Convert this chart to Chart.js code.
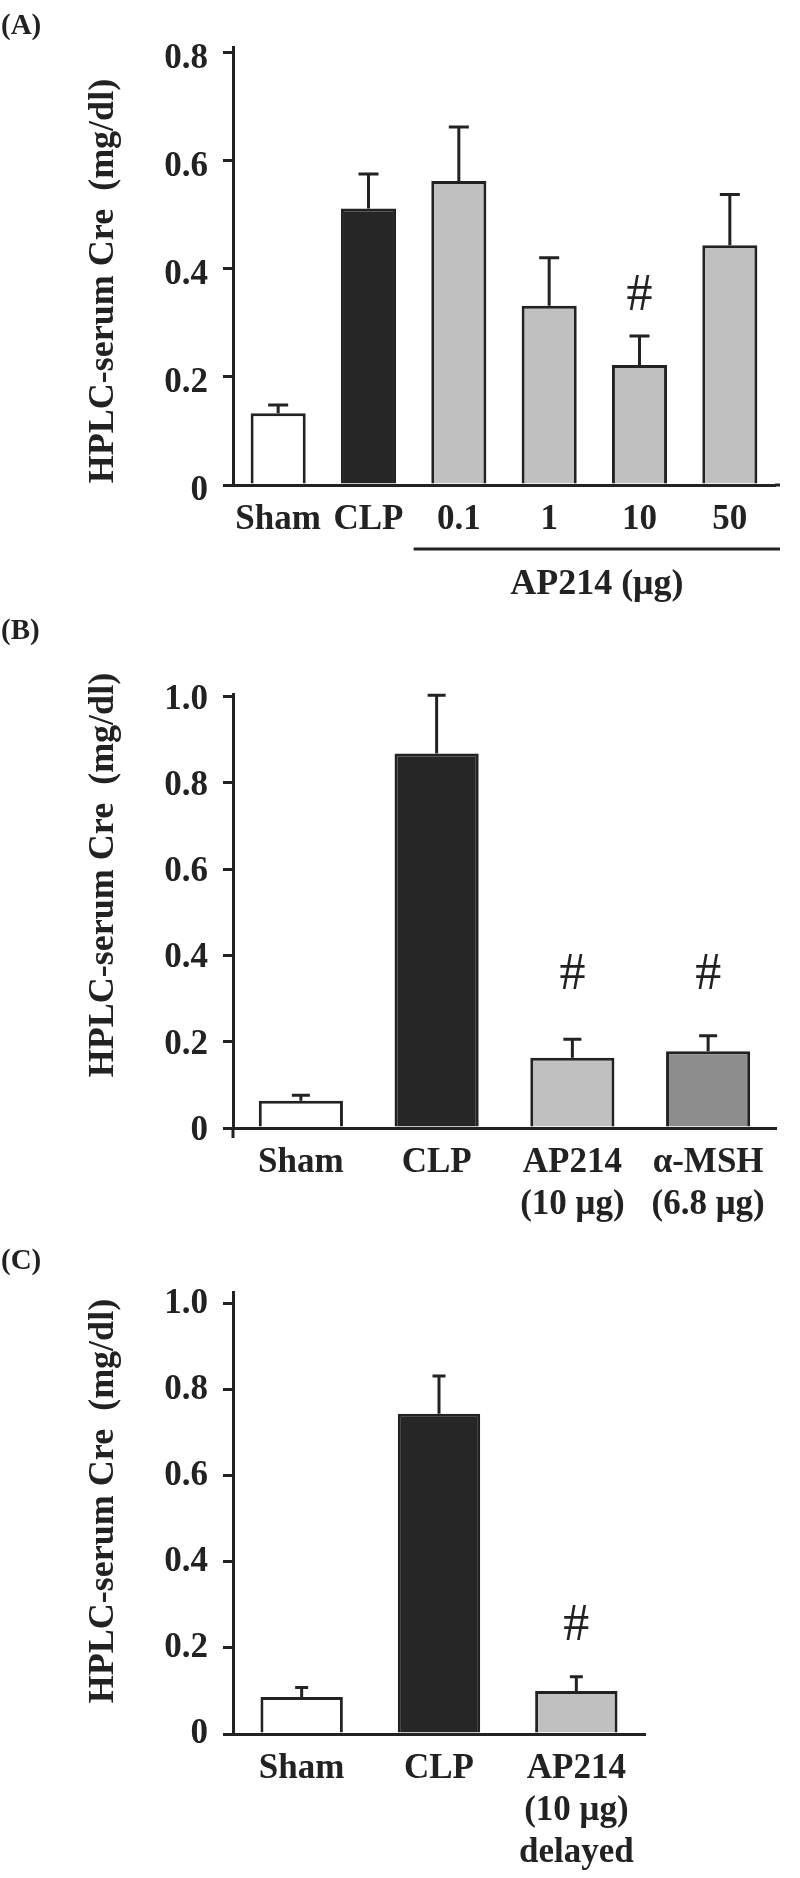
<!DOCTYPE html>
<html>
<head>
<meta charset="utf-8">
<script src="https://cdn.jsdelivr.net/npm/chart.js@4.4.1/dist/chart.umd.min.js"></script>
<style>
  body { margin: 0; background: #fff; width: 800px; height: 1878px; position: relative; overflow: hidden; }
  .panel { position: absolute; left: 0; width: 800px; }
  .tag { position: absolute; left: 1px; font: bold 29px "Liberation Serif", serif; line-height: 29px; color: #222; }
</style>
</head>
<body>
<div class="panel" style="top:0"><canvas id="chartA" width="800" height="615"></canvas></div>
<div class="panel" style="top:615px"><canvas id="chartB" width="800" height="630"></canvas></div>
<div class="panel" style="top:1245px"><canvas id="chartC" width="800" height="633"></canvas></div>
<div class="tag" style="top:10px">(A)</div>
<div class="tag" style="top:615px">(B)</div>
<div class="tag" style="top:1245px">(C)</div>
<script>
// (A) AP214 dose response
const labelsA = ['Sham', 'CLP', '0.1', '1', '10', '50'];
const meanA = [0.133, 0.512, 0.563, 0.332, 0.222, 0.444];
const semA = [0.015, 0.064, 0.100, 0.089, 0.054, 0.094];
const markA = ['', '', '', '', '#', ''];
const markYA = [null, null, null, null, 0.35, null];
const ticksA = [0, 0.2, 0.4, 0.6, 0.8];

// (B) AP214 vs alpha-MSH
const labelsB = ['Sham', 'CLP', ['AP214', '(10 μg)'], ['α-MSH', '(6.8 μg)']];
const meanB = [0.063, 0.868, 0.163, 0.178];
const semB = [0.013, 0.135, 0.043, 0.036];
const markB = ['', '', '#', '#'];
const markYB = [null, null, 0.355, 0.355];
const ticksB = [0, 0.2, 0.4, 0.6, 0.8, 1.0];

// (C) delayed treatment
const labelsC = ['Sham', 'CLP', ['AP214', '(10 μg)', 'delayed']];
const meanC = [0.086, 0.744, 0.100];
const semC = [0.022, 0.088, 0.033];
const markC = ['', '', '#'];
const markYC = [null, null, 0.25];
const ticksC = [0, 0.2, 0.4, 0.6, 0.8, 1.0];

const yTitle = 'HPLC-serum Cre  (mg/dl)';
const INK = '#222222';
const SERIF = '"Liberation Serif", "Times New Roman", serif';

// error bars, # marks, axis title, axis stubs and group bracket
const extras = {
    id: 'extras',
    afterDatasetsDraw(chart, args, opts) {
        const ctx = chart.ctx;
        const y = chart.scales.y;
        const x = chart.scales.x;
        const area = chart.chartArea;
        const ds = chart.data.datasets[0];
        const bars = chart.getDatasetMeta(0).data;
        ctx.save();
        ctx.strokeStyle = INK;
        ctx.fillStyle = INK;
        ctx.lineWidth = 3;

        // little axis overhangs seen in the original
        ctx.beginPath();
        if (opts.xExtend) {
            ctx.moveTo(area.right, area.bottom);
            ctx.lineTo(area.right + opts.xExtend, area.bottom);
        }
        if (opts.yTail) {
            ctx.moveTo(area.left, area.bottom);
            ctx.lineTo(area.left, area.bottom + opts.yTail);
        }
        ctx.stroke();

        bars.forEach((bar, i) => {
            const top = y.getPixelForValue(ds.data[i] + opts.sem[i]);
            ctx.beginPath();
            ctx.moveTo(bar.x, bar.y);
            ctx.lineTo(bar.x, top);
            ctx.moveTo(bar.x - opts.capW / 2, top);
            ctx.lineTo(bar.x + opts.capW / 2, top);
            ctx.stroke();
            if (opts.marks[i]) {
                ctx.font = '52px ' + SERIF;
                ctx.textAlign = 'center';
                ctx.textBaseline = 'middle';
                ctx.fillText(opts.marks[i], bar.x, y.getPixelForValue(opts.markY[i]));
            }
        });

        ctx.font = 'bold 36px ' + SERIF;
        ctx.textAlign = 'center';
        ctx.textBaseline = 'middle';
        ctx.save();
        ctx.translate(104, opts.titleY);
        ctx.rotate(-Math.PI / 2);
        ctx.fillText(yTitle, 0, 0);
        ctx.restore();

        if (opts.group) {
            const g = opts.group;
            const x0 = (x.getPixelForValue(g.from - 1) + x.getPixelForValue(g.from)) / 2;
            const x1 = area.right + (opts.xExtend || 0);
            ctx.beginPath();
            ctx.moveTo(x0, g.lineY);
            ctx.lineTo(x1, g.lineY);
            ctx.stroke();
            ctx.font = 'bold 36px ' + SERIF;
            ctx.fillText(g.label, (x0 + x1) / 2, g.textY);
        }
        ctx.restore();
    }
};

function makeChart(id, p) {
    const ctx = document.getElementById(id).getContext('2d');
    const h = ctx.canvas.height;
    const tickFont = { family: SERIF, weight: 'bold', size: 35, lineHeight: 1.2 };
    return new Chart(ctx, {
        type: 'bar',
        data: {
            labels: p.labels,
            datasets: [{
                data: p.mean,
                backgroundColor: p.fills,
                borderColor: INK,
                borderWidth: 3,
                barPercentage: p.barPct,
                categoryPercentage: 1
            }]
        },
        options: {
            responsive: false,
            animation: false,
            layout: { padding: { top: p.area.top, right: 800 - p.area.right, left: 0, bottom: 0 } },
            plugins: {
                legend: { display: false },
                tooltip: { enabled: false },
                extras: {
                    sem: p.sem, marks: p.marks, markY: p.markY,
                    capW: p.capW, titleY: p.titleY, group: p.group,
                    xExtend: p.xExtend, yTail: p.yTail
                }
            },
            scales: {
                x: {
                    z: 1,
                    offset: true,
                    grid: { display: false, drawTicks: false },
                    border: { display: true, color: INK, width: 3 },
                    ticks: { color: INK, font: tickFont, padding: 14, maxRotation: 0, autoSkip: false },
                    afterFit: s => { s.height = h - p.area.bottom; }
                },
                y: {
                    z: 1,
                    min: 0,
                    max: p.yMax,
                    grid: { display: true, drawOnChartArea: false, drawTicks: true, tickLength: 10, lineWidth: 3, color: INK },
                    border: { display: true, color: INK, width: 3 },
                    ticks: {
                        color: INK, font: tickFont, padding: 15, labelOffset: p.labelOffset,
                        callback: v => v === 0 ? '0' : v.toFixed(1)
                    },
                    afterBuildTicks: s => { s.ticks = p.ticks.map(v => ({ value: v })); },
                    afterFit: s => { s.width = p.area.left; }
                }
            }
        },
        plugins: [extras]
    });
}

makeChart('chartA', {
    labels: labelsA, mean: meanA, sem: semA, marks: markA, markY: markYA, ticks: ticksA,
    fills: ['#ffffff', '#262626', '#c0c0c0', '#c0c0c0', '#c0c0c0', '#c0c0c0'],
    yMax: 0.811, barPct: 0.61, capW: 20, labelOffset: 6, titleY: 281, xExtend: 5,
    area: { top: 47, bottom: 485, left: 233, right: 775 },
    group: { from: 2, label: 'AP214 (μg)', lineY: 549, textY: 585 }
});

makeChart('chartB', {
    labels: labelsB, mean: meanB, sem: semB, marks: markB, markY: markYB, ticks: ticksB,
    fills: ['#ffffff', '#262626', '#c0c0c0', '#8c8c8c'],
    yMax: 1.006, barPct: 0.62, capW: 18, labelOffset: 3, titleY: 260, yTail: 10,
    area: { top: 79, bottom: 513, left: 233, right: 776 }
});

makeChart('chartC', {
    labels: labelsC, mean: meanC, sem: semC, marks: markC, markY: markYC, ticks: ticksC,
    fills: ['#ffffff', '#262626', '#c0c0c0'],
    yMax: 1.027, barPct: 0.6, capW: 13, labelOffset: 0, titleY: 256,
    area: { top: 47, bottom: 489, left: 233, right: 645 }
});
</script>
</body>
</html>
